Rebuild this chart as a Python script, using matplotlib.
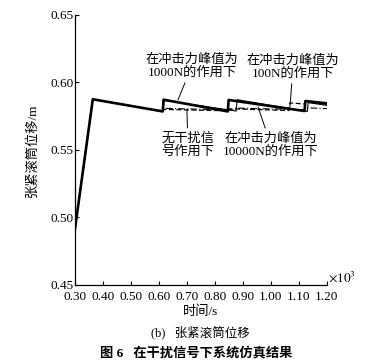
import matplotlib
matplotlib.use("Agg")
import matplotlib.pyplot as plt

FONT = ["Liberation Serif", "Noto Sans CJK SC"]
plt.rcParams["font.family"] = FONT
plt.rcParams["mathtext.fontset"] = "stix"

# time in units of 10^3 s, displacement in m
t_1000 = [0.30, 0.364, 0.614, 0.617, 0.846, 0.849, 1.12, 1.123, 1.20]
v_1000 = [0.491, 0.5875, 0.5785, 0.5872, 0.5785, 0.5870, 0.5788, 0.5862, 0.5845]

t_10000 = [0.30, 0.364, 0.612, 0.615, 0.876, 0.879, 1.13, 1.133, 1.20]
v_10000 = [0.491, 0.5875, 0.5786, 0.5868, 0.5788, 0.5872, 0.5785, 0.5850, 0.5830]

t_100 = [0.30, 0.364, 0.614, 0.617, 0.846, 0.849, 1.064, 1.067, 1.12, 1.123, 1.20]
v_100 = [0.491, 0.5875, 0.5785, 0.5800, 0.5790, 0.5805, 0.5792, 0.5848, 0.5840, 0.5860, 0.5838]

t_none = [0.30, 0.364, 0.615, 0.620, 0.87, 0.875, 1.12, 1.125, 1.20]
v_none = [0.491, 0.5875, 0.5785, 0.5808, 0.5795, 0.5810, 0.5798, 0.5812, 0.5806]

x_ticks = [0.30, 0.40, 0.50, 0.60, 0.70, 0.80, 0.90, 1.00, 1.10, 1.20]
y_ticks = [0.45, 0.50, 0.55, 0.60, 0.65]

fig = plt.figure(figsize=(3.92, 3.63), dpi=100)
ax = fig.add_axes([0.191, 0.215, 0.643, 0.744])

ax.plot(t_none, v_none, color="black", lw=0.8, ls=(0, (6, 2, 1, 2)))
ax.plot(t_100, v_100, color="black", lw=0.9, ls=(0, (4, 2)))
ax.plot(t_10000, v_10000, color="black", lw=0.8)
ax.plot(t_1000, v_1000, color="black", lw=1.9)

ax.set_xlim(0.30, 1.20)
ax.set_ylim(0.45, 0.65)
ax.set_xticks(x_ticks)
ax.set_xticklabels([f"{v:.2f}" for v in x_ticks])
ax.set_yticks(y_ticks)
ax.set_yticklabels([f"{v:.2f}" for v in y_ticks])
ax.tick_params(direction="in", length=3, width=0.8, labelsize=9.5)
ax.tick_params(axis="x", pad=4)
ax.tick_params(axis="y", pad=1)
for side in ("top", "right"):
    ax.spines[side].set_visible(False)
for side in ("left", "bottom"):
    ax.spines[side].set_linewidth(0.9)

ax.set_xlabel("时间/s", fontsize=9.5, labelpad=2, weight="medium")
ax.set_ylabel("张紧滚筒位移/m", fontsize=9.5, labelpad=8, weight="medium")
ax.text(1.005, 0.0, r"$\times10^3$", transform=ax.transAxes, fontsize=9.5,
        ha="left", va="bottom")

lbl = dict(fontsize=9.5, ha="center", va="center", linespacing=1.1, weight="medium")
arrow = dict(arrowstyle="-", color="black", lw=0.7, shrinkA=1, shrinkB=0)
ax.annotate("在冲击力峰值为\n1000N的作用下", xy=(0.668, 0.5870), xytext=(0.718, 0.6122),
            arrowprops=arrow, **lbl)
ax.annotate("在冲击力峰值为\n100N的作用下", xy=(1.068, 0.5818), xytext=(1.079, 0.6115),
            arrowprops=arrow, **lbl)
ax.annotate("无干扰信\n号作用下", xy=(0.700, 0.5798), xytext=(0.704, 0.5537),
            arrowprops=arrow, **lbl)
ax.annotate("在冲击力峰值为\n10000N的作用下", xy=(0.954, 0.5818), xytext=(1.000, 0.5537),
            arrowprops=arrow, **lbl)

fig.text(0.51, 0.085, "(b)   张紧滚筒位移", fontsize=9, ha="center", va="center",
         weight="medium")
fig.text(0.50, 0.027, "图 6   在干扰信号下系统仿真结果", fontsize=9.5, ha="center",
         va="center", weight="bold")

fig.savefig("out.png", dpi=100)
